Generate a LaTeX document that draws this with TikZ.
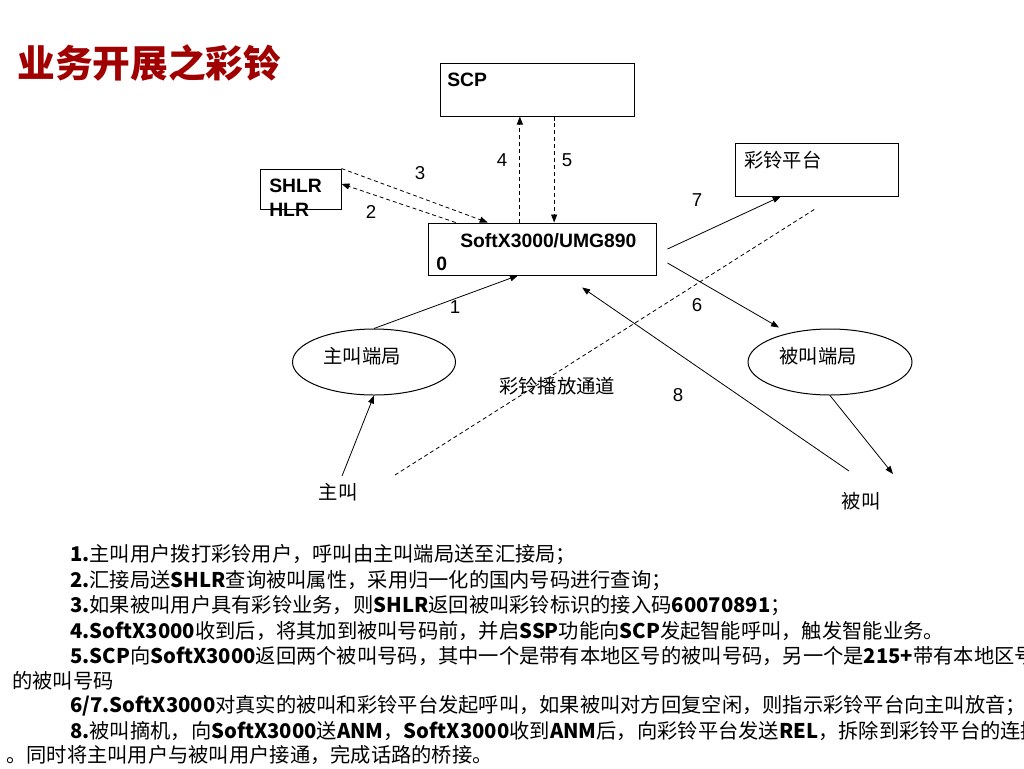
\documentclass[tikz,border=0pt]{standalone}
\usepackage{fontspec}
\setmainfont{Noto Sans CJK SC}
\newfontfamily\arialf{Liberation Sans}
\usetikzlibrary{fit,calc,arrows.meta,shapes.geometric}
\definecolor{titlered}{RGB}{160,0,0}
\begin{document}
\begin{tikzpicture}[x=0.75pt,y=-0.75pt,
  box/.style={draw,line width=0.75pt,inner sep=0pt},
  oval/.style={draw,ellipse,line width=0.75pt,inner sep=0pt},
  arr/.style={line width=0.6pt,-{Triangle[length=6pt,width=4.5pt]}},
  darr/.style={arr,dash pattern=on 3pt off 2.2pt},
  lat/.style={font=\arialf\fontsize{14.5}{17}\selectfont\bfseries,inner sep=0pt,anchor=west},
  num/.style={font=\arialf\fontsize{14}{17}\selectfont,inner sep=0pt},
  cjk/.style={font=\fontsize{14.5}{17}\selectfont,inner sep=0pt},
  body/.style={font=\fontsize{15.2}{18}\selectfont,inner sep=0pt,anchor=west},
]
\useasboundingbox (0,0) rectangle (1024,768);
\clip (0,0) rectangle (1024,768);

% title
\node[anchor=west,inner sep=0pt,text=titlered,font=\fontsize{28.3}{31}\selectfont\bfseries] (title) at (17,63) {业务开展之彩铃};

% boxes
\node[box,fit={(440,63) (634,116)}] (scp) {};
\node[box,fit={(260,169) (341,209)}] (shlr) {};
\node[box,fit={(428,223) (656,275)}] (softx) {};
\node[box,fit={(735,143) (898,196)}] (crbt) {};
\node[oval,minimum width=122.25pt,minimum height=49.5pt] (zjdj) at (374,362) {};
\node[oval,minimum width=123pt,minimum height=49.5pt] (bjdj) at (830,362) {};

% box texts
\node[lat] (scpt) at (447,80) {SCP};
\node[lat] (shlrt) at (269,186) {SHLR};
\node[lat] (hlrt) at (269,210) {HLR};
\node[lat] (softxt) at (460,241) {SoftX3000/UMG890};
\node[lat] (zero) at (436,264) {0};
\node[cjk,anchor=west] (crbtt) at (744,160) {彩铃平台};
\node[cjk] (zjdjt) at (362,356) {主叫端局};
\node[cjk] (bjdjt) at (818,356) {被叫端局};
\node[cjk] (chan) at (557,386) {彩铃播放通道};
\node[cjk] (zj) at (338,492) {主叫};
\node[cjk] (bj) at (861,501) {被叫};

% numbers
\node[num] (n3) at (420,173) {3};
\node[num] (n2) at (371,212) {2};
\node[num] (n4) at (502,160) {4};
\node[num] (n5) at (567,160) {5};
\node[num] (n7) at (697,200) {7};
\node[num] (n6) at (697,305) {6};
\node[num] (n1) at (455,307) {1};
\node[num] (n8) at (678,395) {8};

% free-end coordinates
\coordinate (chanA) at (395,475);
\coordinate (chanB) at (815,209);
\coordinate (zjsrc) at (342,476);
\coordinate (bjsrc) at (849,471);
\coordinate (bjdst) at (893,474);

% connectors
\draw[darr] (shlr.north east) -- ($(softx.north west)!0.263!(softx.north east)$);
\draw[darr] ($(softx.north west)!0.123!(softx.north east)$) -- ($(shlr.north east)!0.375!(shlr.south east)$);
\coordinate (p4) at ($(scp.south west)!0.412!(scp.south east)$);
\coordinate (p5) at ($(scp.south west)!0.588!(scp.south east)$);
\draw[darr] (p4 |- softx.north) -- (p4);
\draw[darr] (p5) -- (p5 |- softx.north);
\draw[arr] ([xshift=8.25pt]softx.east) -- ($(crbt.south west)!0.282!(crbt.south east)$);
\draw[arr] ([xshift=8.25pt,yshift=-10.5pt]softx.east) -- ($(bjdj.north)+(-51,-1)$);
\draw[arr] (zjdj.north) -- ($(softx.south west)!0.395!(softx.south east)$);
\draw[arr] (bjsrc) -- ($($(softx.south west)!0.675!(softx.south east)$)+(0,12)$);
\draw[arr] (zjsrc) -- (zjdj.south);
\draw[arr] (bjdj.south) -- (bjdst);
\draw[line width=0.6pt,dash pattern=on 3pt off 2.2pt] (chanA) -- (chanB);

% explanation text
\node[body] (l1) at (70,555) {\textbf{1.}主叫用户拨打彩铃用户，呼叫由主叫端局送至汇接局；};
\node[body] (l2) at (70,581) {\textbf{2.}汇接局送\textbf{SHLR}查询被叫属性，采用归一化的国内号码进行查询；};
\node[body] (l3) at (70,606) {\textbf{3.}如果被叫用户具有彩铃业务，则\textbf{SHLR}返回被叫彩铃标识的接入码\textbf{60070891}；};
\node[body] (l4) at (70,631) {\textbf{4.SoftX3000}收到后，将其加到被叫号码前，并启\textbf{SSP}功能向\textbf{SCP}发起智能呼叫，触发智能业务。};
\node[body] (l5) at (70,656) {\textbf{5.SCP}向\textbf{SoftX3000}返回两个被叫号码，其中一个是带有本地区号的被叫号码，另一个是\textbf{215+}带有本地区号};
\node[body] (l6) at (12,681) {的被叫号码};
\node[body] (l7) at (70,706) {\textbf{6/7.SoftX3000}对真实的被叫和彩铃平台发起呼叫，如果被叫对方回复空闲，则指示彩铃平台向主叫放音；};
\node[body] (l8) at (70,731) {\textbf{8.}被叫摘机，向\textbf{SoftX3000}送\textbf{ANM}，\textbf{SoftX3000}收到\textbf{ANM}后，向彩铃平台发送\textbf{REL}，拆除到彩铃平台的连接};
\node[body] (l9) at (6,755) {。同时将主叫用户与被叫用户接通，完成话路的桥接。};
\end{tikzpicture}
\end{document}
